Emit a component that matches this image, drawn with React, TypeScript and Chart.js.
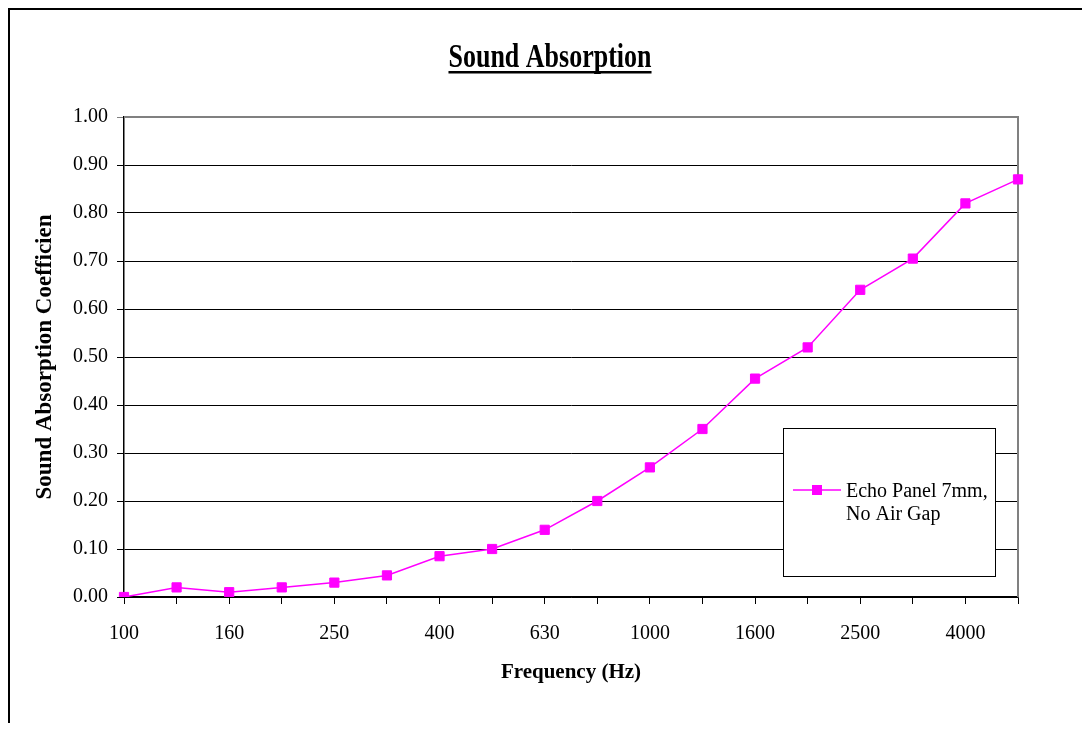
import React, { useEffect, useRef } from "react";
import { Chart, registerables } from "chart.js";

Chart.register(...registerables);

const FREQUENCIES = ["100", "125", "160", "200", "250", "315", "400", "500", "630", "800", "1000", "1250", "1600", "2000", "2500", "3150", "4000", "5000"];
const ABSORPTION = [0.0, 0.02, 0.01, 0.02, 0.03, 0.045, 0.085, 0.10, 0.14, 0.20, 0.27, 0.35, 0.455, 0.52, 0.64, 0.705, 0.82, 0.87];
const SERIES_LABEL = "Echo Panel 7mm, No Air Gap";
const CHART_TITLE = "Sound Absorption";
const X_TITLE = "Frequency (Hz)";
const Y_TITLE = "Sound Absorption Coefficien";

const SERIF = "'Liberation Serif', 'Times New Roman', serif";
const MAGENTA = "#FF00FF";

const decorPlugin = {
  id: "decor",
  beforeDatasetsDraw(chart: any) {
    const { ctx, chartArea } = chart;
    ctx.save();
    ctx.strokeStyle = "#808080";
    ctx.lineWidth = 2;
    ctx.beginPath();
    ctx.moveTo(chartArea.left, chartArea.top);
    ctx.lineTo(chartArea.right, chartArea.top);
    ctx.lineTo(chartArea.right, chartArea.bottom);
    ctx.stroke();
    ctx.restore();
  },
  afterDraw(chart: any) {
    const { ctx, chartArea } = chart;
    ctx.save();
    // chart title (slightly tall glyphs, underlined)
    ctx.font = `bold 26px ${SERIF}`;
    const tw = ctx.measureText(CHART_TITLE).width;
    const cx = chart.width / 2;
    ctx.fillStyle = "#000";
    ctx.textAlign = "center";
    ctx.textBaseline = "alphabetic";
    ctx.save();
    ctx.translate(cx, 57);
    ctx.scale(1, 1.3);
    ctx.fillText(CHART_TITLE, 0, 0);
    ctx.restore();
    ctx.fillRect(cx - tw / 2, 61, tw, 2.5);

    // legend box
    const lx = chartArea.right - 235;
    const ly = chartArea.top + 311;
    const lw = 212;
    const lh = 148;
    ctx.fillStyle = "#fff";
    ctx.fillRect(lx, ly, lw, lh);
    ctx.strokeStyle = "#000";
    ctx.lineWidth = 1;
    ctx.strokeRect(lx + 0.5, ly + 0.5, lw, lh);
    const sy = ly + 62;
    ctx.strokeStyle = MAGENTA;
    ctx.lineWidth = 1.5;
    ctx.beginPath();
    ctx.moveTo(lx + 10, sy);
    ctx.lineTo(lx + 58, sy);
    ctx.stroke();
    ctx.fillStyle = MAGENTA;
    ctx.fillRect(lx + 34 - 5, sy - 5, 10, 10);
    ctx.fillStyle = "#000";
    ctx.font = `20px ${SERIF}`;
    ctx.textBaseline = "middle";
    ctx.textAlign = "left";
    const parts = SERIES_LABEL.split(", ");
    ctx.fillText(parts[0] + ",", lx + 63, sy + 2);
    ctx.fillText(parts[1], lx + 63, sy + 25);
    ctx.restore();
  },
};

export default function App() {
  const canvasRef = useRef<HTMLCanvasElement | null>(null);

  useEffect(() => {
    if (!canvasRef.current) return;
    const chart = new Chart(canvasRef.current, {
      type: "line",
      data: {
        labels: FREQUENCIES,
        datasets: [
          {
            label: SERIES_LABEL,
            data: ABSORPTION,
            borderColor: MAGENTA,
            backgroundColor: MAGENTA,
            borderWidth: 1.5,
            pointStyle: "rect",
            pointRadius: 6.5,
            pointBorderWidth: 1,
            pointBackgroundColor: MAGENTA,
            pointBorderColor: MAGENTA,
            tension: 0,
            fill: false,
          },
        ],
      },
      plugins: [decorPlugin],
      options: {
        responsive: false,
        animation: false,
        layout: { padding: { left: 0, right: 72, top: 107, bottom: 0 } },
        plugins: {
          legend: { display: false },
          tooltip: { enabled: false },
          title: { display: false },
        },
        scales: {
          x: {
            type: "category",
            offset: false,
            afterFit: (s: any) => {
              s.height = 126;
            },
            grid: {
              drawOnChartArea: false,
              drawTicks: true,
              tickLength: 7,
              color: "#000",
            },
            border: { display: true, color: "#000", width: 1.5 },
            ticks: {
              autoSkip: false,
              maxRotation: 0,
              minRotation: 0,
              padding: 18,
              color: "#000",
              font: { family: SERIF, size: 20 },
              callback: (_v: any, i: number) => (i % 2 === 0 ? FREQUENCIES[i] : ""),
            },
            title: {
              display: true,
              text: X_TITLE,
              color: "#000",
              font: { family: SERIF, size: 21, weight: "bold", lineHeight: 1.2 },
              padding: { top: 0, bottom: 38 },
            },
          },
          y: {
            min: 0,
            max: 1,
            afterFit: (s: any) => {
              s.width = 114;
            },
            grid: {
              drawTicks: true,
              tickLength: 7,
              color: (c: any) => (c.tick && Math.abs(c.tick.value - 1) < 1e-6 ? "#808080" : "#000"),
              lineWidth: 1,
            },
            border: { display: true, color: "#000", width: 1.5 },
            ticks: {
              stepSize: 0.1,
              padding: 9,
              color: "#000",
              font: { family: SERIF, size: 20 },
              callback: (v: any) => Number(v).toFixed(2),
            },
            title: {
              display: true,
              text: Y_TITLE,
              color: "#000",
              font: { family: SERIF, size: 23, weight: "bold", lineHeight: 1.2 },
              padding: { top: 21, bottom: 0 },
            },
          },
        },
      },
    });
    return () => chart.destroy();
  }, []);

  return (
    <div
      style={{
        width: 1082,
        height: 715,
        borderLeft: "2px solid #000",
        borderTop: "2px solid #000",
        boxSizing: "border-box",
        background: "#fff",
      }}
    >
      <canvas ref={canvasRef} width={1080} height={713} style={{ display: "block" }} />
    </div>
  );
}
